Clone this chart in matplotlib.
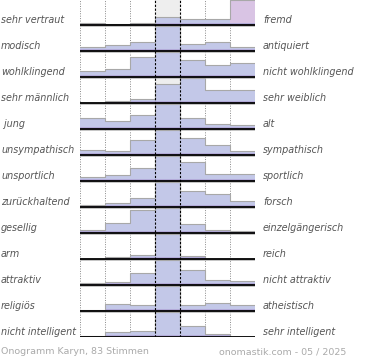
import numpy as np
import matplotlib.pyplot as plt

left_labels = ["sehr vertraut", "modisch", "wohlklingend", "sehr männlich", " jung",
               "unsympathisch", "unsportlich", "zurückhaltend", "gesellig", "arm",
               "attraktiv", "religiös", "nicht intelligent"]
right_labels = ["fremd", "antiquiert", "nicht wohlklingend", "sehr weiblich", "alt",
                "sympathisch", "sportlich", "forsch", "einzelgängerisch", "reich",
                "nicht attraktiv", "atheistisch", "sehr intelligent"]

# relative frequencies per rating step (7 steps)
votes = [
    [2.3, 1.3, 2.3, 8.0, 6.3, 6.3, 24.0],
    [4.0, 6.0, 9.3, 25.0, 6.7, 9.3, 4.0],
    [6.0, 7.7, 20.3, 25.0, 17.7, 12.3, 13.7],
    [0.0, 2.0, 4.3, 19.3, 25.0, 13.3, 13.3],
    [11.0, 8.0, 13.3, 24.0, 10.3, 5.0, 3.7],
    [5.0, 4.0, 15.0, 24.0, 16.7, 9.7, 4.0],
    [3.6, 6.0, 13.6, 25.0, 19.6, 7.0, 7.0],
    [2.0, 4.3, 9.0, 25.0, 16.0, 12.7, 6.0],
    [3.3, 10.3, 23.3, 25.0, 9.3, 3.3, 1.7],
    [0.5, 2.0, 3.7, 25.0, 2.7, 0.0, 0.0],
    [2.0, 3.3, 12.3, 25.0, 15.4, 5.0, 4.0],
    [1.0, 7.3, 6.0, 25.0, 6.0, 8.3, 6.0],
    [1.0, 4.7, 6.3, 25.0, 10.7, 3.3, 0.0],
]

footer_left = "Onogramm Karyn, 83 Stimmen"
footer_right = "onomastik.com - 05 / 2025"

W, H = 370, 360
fig = plt.figure(figsize=(W / 100, H / 100), dpi=100)
n = len(votes)
row_px = 26
top_px = 337 - n * row_px
ax = fig.add_axes([80 / W, 1 - 337 / H, 175 / W, (337 - top_px) / H])
ax.set_xlim(0, 7)
ax.set_ylim(0, n)
ax.axis("off")

# center column background
ax.axvspan(3, 4, color="#eeeeee", zorder=0)
for xv in [0, 1, 2, 5, 6, 7]:
    ax.axvline(xv, color="#888888", linestyle=(0, (1, 1.5)), linewidth=0.7, zorder=1)

xs = np.arange(7) + 0.5
edges = np.arange(8)
for i, row in enumerate(votes):
    base = n - 1 - i
    h = np.array(row) / max(row) * 0.95
    colors = ["#c3c8e8"] * 7
    if i == 0:
        colors[6] = "#d9c4e4"
    ax.bar(xs, h, width=1.0, bottom=base, color=colors, linewidth=0, zorder=2)
    band = np.minimum(h, 0.06)
    ax.bar(xs, band, width=1.0, bottom=base, color="#b2aad8", linewidth=0, zorder=2)
    tops = np.append(h, h[-1]) + base
    ax.step(edges, tops, where="post", color="#a8a8a8", linewidth=0.8, zorder=3)
    ax.plot([0, 7], [base - 0.03, base - 0.03], color="#bbbbbb", linewidth=1.2, zorder=3)
    ax.plot([0, 7], [base, base], color="black", linewidth=1.3, zorder=4)
    yl = 1 - (337 - row_px * (n - 1 - i) - 5) / H
    fig.text(1 / W, yl, left_labels[i], fontsize=6.9, style="italic",
             color="#555555", ha="left", va="center")
    fig.text(263 / W, yl, right_labels[i], fontsize=6.9, style="italic",
             color="#555555", ha="left", va="center")

for xv in [3, 4]:
    ax.axvline(xv, color="black", linestyle=(0, (2, 1.5)), linewidth=0.8, zorder=5)

fig.text(1 / W, 1 - 352 / H, footer_left, fontsize=6.8, color="#aaaaaa",
         ha="left", va="center")
fig.text(346 / W, 1 - 352 / H, footer_right, fontsize=6.8, color="#aaaaaa",
         ha="right", va="center")

fig.savefig("out.png", dpi=100)
